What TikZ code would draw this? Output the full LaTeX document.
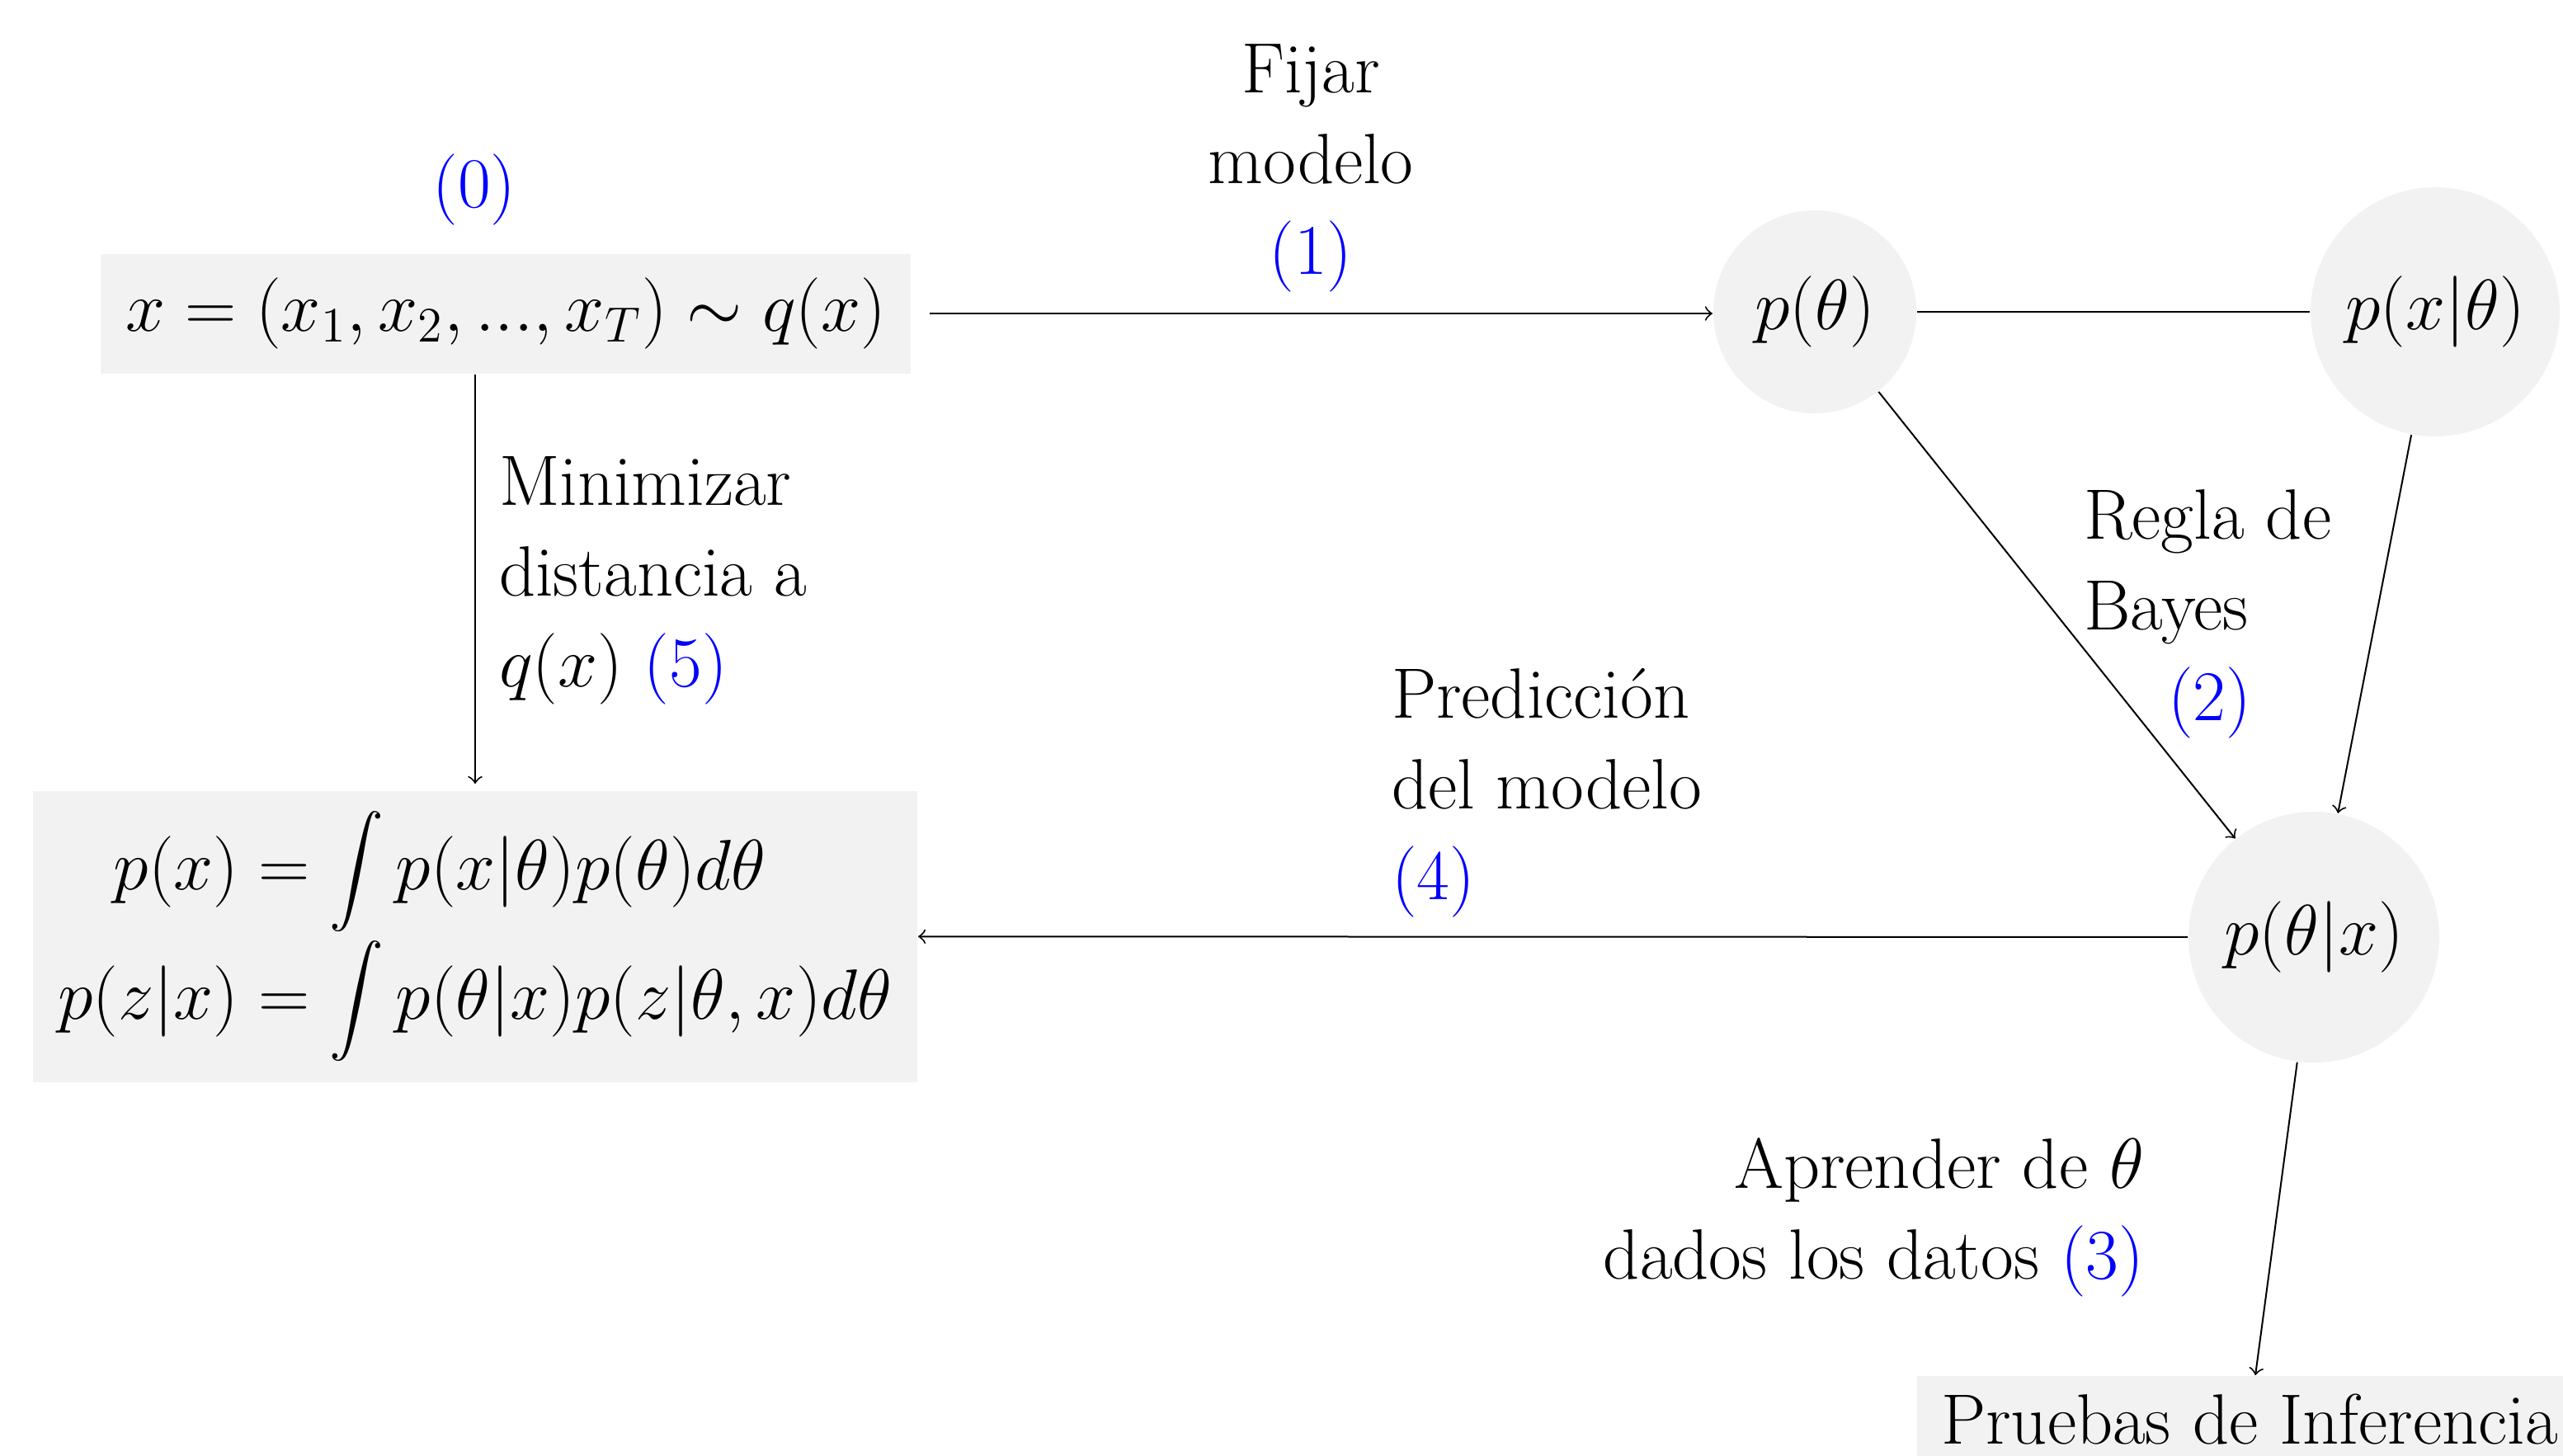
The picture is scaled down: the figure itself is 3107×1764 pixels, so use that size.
\documentclass[tikz,border=0pt]{standalone}
\usepackage{amsmath}
\DeclareFontShape{OMX}{cmex}{m}{n}{<->sfixed*[13.15]cmex10}{}
\begin{document}
\begin{tikzpicture}[x=0.2pt,y=-0.2pt,
  every node/.style={font=\LARGE},
  box/.style={rectangle, fill=black!5, inner sep=0pt},
  blob/.style={circle, fill=black!5, inner sep=0pt},
  lbl/.style={inner sep=0pt},
  conn/.style={->, line width=0.4pt},
  plain/.style={line width=0.4pt}]
\useasboundingbox (0,0) rectangle (3107,1764);

% main nodes
\node[box, minimum width=196.2pt, minimum height=29pt] (data) at (613,380)
  {$x=(x_1,x_2,...,x_T)\sim q(x)$};
\node[box, minimum width=214.4pt, minimum height=70.6pt] (pred) at (576,1135)
  {\setlength{\jot}{1.2pt}$\begin{aligned} p(x) &= \int p(x|\theta)p(\theta)d\theta\\
     p(z|x) &= \int p(\theta|x)p(z|\theta,x)d\theta\end{aligned}$};
\node[blob, minimum size=49.2pt] (prior) at (2200,378) {$p(\theta)$};
\node[blob, minimum size=60.4pt] (lik) at (2952,378) {$p(x|\theta)$};
\node[blob, minimum size=60.8pt] (post) at (2805,1136) {$p(\theta|x)$};
\node[box, minimum width=161.4pt, minimum height=20.8pt] (tests) at (2727,1720)
  {Pruebas de Inferencia};

% labels (anchor base = baseline of the last line)
\node[lbl, anchor=base, text=blue] (l0) at (575,251) {(0)};
\node[lbl, anchor=base, align=center] (l1) at (1589,332)
  {Fijar\\modelo\\\textcolor{blue}{(1)}};
\node[lbl, anchor=base west, align=left] (l2) at (2525,873)
  {Regla de\\Bayes\\\hspace*{20.4pt}\textcolor{blue}{(2)}};
\node[lbl, anchor=base east, align=right] (l3) at (2600,1550)
  {Aprender de $\theta$\\dados los datos \textcolor{blue}{(3)}};
\node[lbl, anchor=base west, align=left] (l4) at (1686,1090)
  {Predicción\\del modelo\\\textcolor{blue}{(4)}};
\node[lbl, anchor=base west, align=left] (l5) at (604,832)
  {Minimizar\\distancia a\\$q(x)$ \textcolor{blue}{(5)}};

% connectors
\draw[conn, shorten <=4.4pt] (data.east) -- (data.east -| prior.west);
\draw[plain] (prior) -- (lik);
\draw[conn] (prior) -- (post);
\draw[conn] (lik) -- (post);
\draw[conn] (post) -- (pred);
\draw[conn, shorten >=1.5pt] (data.south -| pred.north) -- (pred.north);
\draw[conn] (post) -- (tests);
\end{tikzpicture}
\end{document}
